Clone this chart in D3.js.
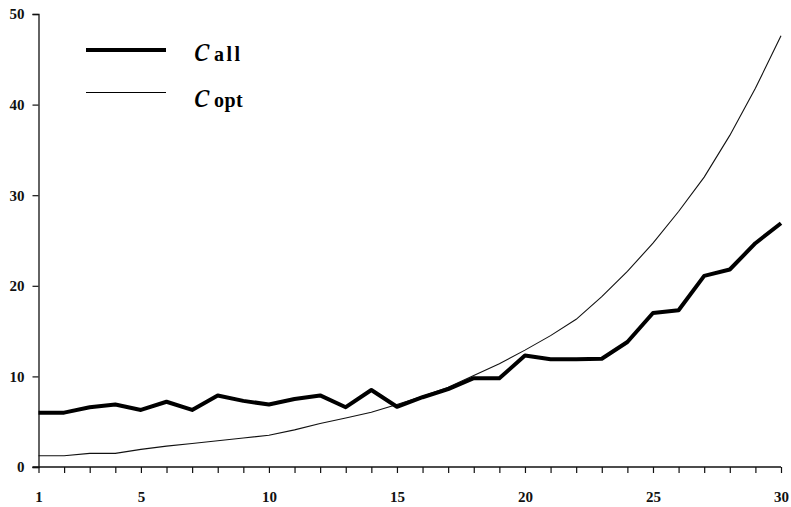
<!DOCTYPE html>
<html>
<head>
<meta charset="utf-8">
<script src="https://cdn.jsdelivr.net/npm/d3@7"></script>
<style>
  body { margin: 0; background: #fff; }
  svg text { font-family: "Liberation Serif", "Times New Roman", serif; }
</style>
</head>
<body>
<script>
// chart data
const xs = d3.range(1, 31);
const cAll = [6.0, 6.0, 6.6, 6.9, 6.3, 7.2, 6.3, 7.9, 7.3, 6.9,
              7.5, 7.9, 6.6, 8.5, 6.65, 7.7, 8.6, 9.8, 9.8, 12.3,
              11.9, 11.9, 11.95, 13.8, 17.0, 17.3, 21.1, 21.8, 24.7, 26.9];
const cOpt = [1.25, 1.25, 1.5, 1.5, 1.95, 2.3, 2.6, 2.9, 3.2, 3.5,
              4.1, 4.8, 5.4, 6.05, 6.9, 7.8, 8.8, 10.1, 11.4, 12.9,
              14.5, 16.3, 18.8, 21.6, 24.7, 28.2, 32.0, 36.6, 41.8, 47.6];
const xTickLabels = [1, 5, 10, 15, 20, 25, 30];
const yTicks = [0, 10, 20, 30, 40, 50];
const seriesNames = [{main: 'c', sub: 'all'}, {main: 'c', sub: 'opt'}];

// layout
const svgWidth = 791;
const svgHeight = 507;
const margin = {top: 14, right: 10, bottom: 40, left: 38.5};

const svg = d3.select('body')
              .append('svg')
              .attr('width', svgWidth)
              .attr('height', svgHeight);

const xScale = d3.scaleLinear().domain([1, 30]).range([margin.left, 781]);
const yScale = d3.scaleLinear().domain([0, 50]).range([467, margin.top]);

// y axis
const yAxis = d3.axisLeft(yScale).tickValues(yTicks).tickSize(6).tickPadding(8);
const yG = svg.append('g')
              .attr('transform', 'translate(' + margin.left + ',0)')
              .call(yAxis);

// x axis: tick at every integer, labels only on some
const xAxis = d3.axisBottom(xScale)
                .tickValues(xs)
                .tickSize(6)
                .tickPadding(18)
                .tickFormat(d => xTickLabels.includes(d) ? d : '');
const xG = svg.append('g')
              .attr('transform', 'translate(0,' + yScale(0) + ')')
              .call(xAxis);

[yG, xG].forEach(g => {
  g.select('.domain').attr('stroke', '#111').attr('stroke-width', 1.3);
  g.selectAll('.tick line').attr('stroke', '#111').attr('stroke-width', 1.2);
  g.selectAll('.tick text')
   .attr('fill', '#111')
   .style('font-size', '15px')
   .style('font-weight', 'bold');
});
// x axis line extends slightly left of y axis
xG.select('.domain').attr('d', 'M' + (margin.left - 6) + ',0H' + xScale(30));

// lines
const line = d3.line()
               .x((d, i) => xScale(xs[i]))
               .y(d => yScale(d));

svg.append('path')
   .datum(cOpt)
   .attr('fill', 'none')
   .attr('stroke', '#111')
   .attr('stroke-width', 1.1)
   .attr('d', line);

svg.append('path')
   .datum(cAll)
   .attr('fill', 'none')
   .attr('stroke', '#000')
   .attr('stroke-width', 4)
   .attr('stroke-linejoin', 'round')
   .attr('d', line);

// legend
const legend = svg.append('g');
const legendRows = [
  {y: 50, base: 61, width: 4, spacing: 2.5, name: seriesNames[0]},
  {y: 92.5, base: 107, width: 1.1, spacing: 0.5, name: seriesNames[1]}
];
legendRows.forEach(r => {
  legend.append('line')
        .attr('x1', 86).attr('x2', 166)
        .attr('y1', r.y).attr('y2', r.y)
        .attr('stroke', '#000')
        .attr('stroke-width', r.width);
  const t = legend.append('text')
                  .attr('x', 194)
                  .attr('y', r.base)
                  .attr('fill', '#000');
  t.append('tspan')
   .text(r.name.main)
   .style('font-style', 'italic')
   .style('font-size', '36px');
  t.append('tspan')
   .attr('dx', 4)
   .text(r.name.sub)
   .style('font-size', '20px')
   .style('font-weight', 'bold')
   .style('letter-spacing', r.spacing + 'px');
});
</script>
</body>
</html>
